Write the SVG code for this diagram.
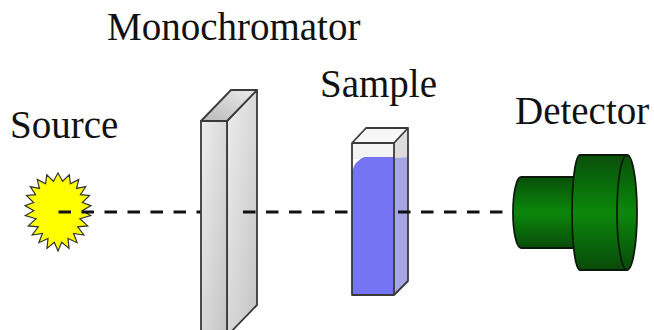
<svg xmlns="http://www.w3.org/2000/svg" width="654" height="330" viewBox="0 0 654 330">
  <defs>
    <linearGradient id="greyFace" x1="0" y1="0" x2="1" y2="1">
      <stop offset="0" stop-color="#ededed"/>
      <stop offset="1" stop-color="#c4c4c4"/>
    </linearGradient>
    <linearGradient id="greyTop" x1="0" y1="1" x2="1" y2="0">
      <stop offset="0" stop-color="#b8b8b8"/>
      <stop offset="1" stop-color="#ececec"/>
    </linearGradient>
    <linearGradient id="green" x1="0" y1="0" x2="0" y2="1">
      <stop offset="0" stop-color="#09500a"/>
      <stop offset="0.5" stop-color="#0b880b"/>
      <stop offset="1" stop-color="#094a09"/>
    </linearGradient>
    <style>
      .label { font-family: "Liberation Serif", "Times New Roman", serif; font-size: 39px; fill: #111; }
      .edge { stroke: #3a3a3a; stroke-width: 1.8; stroke-linejoin: round; }
      .det { fill: url(#green); stroke: #0a1a0a; stroke-width: 1.8; stroke-linejoin: round; }
      .beam { stroke: #111; stroke-width: 3; fill: none; stroke-dasharray: 12.5 10.5; }
    </style>
  </defs>

  <rect width="654" height="330" fill="#ffffff"/>

  <!-- labels -->
  <text class="label" x="107" y="40">Monochromator</text>
  <text class="label" x="10" y="138">Source</text>
  <text class="label" x="320" y="97">Sample</text>
  <text class="label" x="515" y="124">Detector</text>

  <!-- light source: yellow starburst -->
  <g id="source">
    <polygon fill="#ffff00" stroke="#333" stroke-width="1.2" stroke-linejoin="miter"
      points="58.0,173.0 62.6,181.2 69.3,174.8 70.4,183.8 78.7,179.4 76.6,188.4 85.7,186.6 80.4,194.7 89.5,195.5 82.4,202.6 91.0,205.6 82.2,210.8 90.7,215.5 79.9,218.7 87.7,225.9 77.7,226.8 83.8,235.0 73.6,233.4 77.1,242.7 68.0,238.5 69.0,248.4 61.7,242.3 58.0,251.0 54.3,242.3 47.0,248.4 48.0,238.5 38.9,242.7 42.4,233.4 32.2,235.0 38.3,226.8 28.3,225.9 36.1,218.7 25.3,215.5 33.8,210.8 25.0,205.6 33.6,202.6 26.5,195.5 35.6,194.7 30.3,186.6 39.4,188.4 37.3,179.4 45.6,183.8 46.7,174.8 53.4,181.2"/>
  </g>

  <!-- light path -->
  <g id="connectors">
    <line class="beam" x1="58.5" y1="212" x2="201" y2="212"/>
    <line class="beam" x1="243" y1="212" x2="352" y2="212"/>
    <line class="beam" x1="398" y1="212" x2="513" y2="212"/>
  </g>

  <!-- monochromator slab -->
  <g id="monochromator">
    <polygon class="edge" fill="url(#greyFace)" points="227,121 257,90 257,305 227,336"/>
    <polygon class="edge" fill="url(#greyTop)" points="201,121 231,90 257,90 227,121"/>
    <rect class="edge" fill="url(#greyFace)" x="201" y="121" width="26" height="215"/>
    <line x1="243" y1="212" x2="255.5" y2="212" stroke="#111" stroke-width="3"/>
  </g>

  <!-- sample cuvette -->
  <g id="sample">
    <polygon fill="#f7f7f7" points="352,143 366,128 408,128 394,143"/>
    <polygon fill="#dcdcdc" points="394,143 408,128 408,157 394,158"/>
    <polygon fill="#a6a6e6" points="394,158 408,157 408,281 394,295"/>
    <rect fill="#f3f3f3" x="352" y="143" width="42" height="16"/>
    <path fill="#7474f4" d="M352,171 Q355,161 364,157 L394,157 L394,295 L352,295 Z"/>
    <path fill="none" class="edge" stroke="#222" d="M352,143 L366,128 L408,128 L394,143 Z M394,143 L408,128 L408,281 L394,295 Z M352,143 H394 V295 H352 Z"/>
    <line x1="398" y1="212" x2="408.5" y2="212" stroke="#111" stroke-width="3"/>
  </g>

  <!-- detector: two stacked cylinders -->
  <g id="detector">
    <path class="det" d="M521,177 L575,177 L575,248 L521,248 A8,35.5 0 0 1 521,177 Z"/>
    <path class="det" d="M580,155 L627,155 A10,57.5 0 0 1 627,270 L580,270 A8,57.5 0 0 1 580,155 Z"/>
    <path fill="none" stroke="#0a1a0a" stroke-width="1.8" d="M627,155 A10,57.5 0 0 0 627,270"/>
  </g>
</svg>
